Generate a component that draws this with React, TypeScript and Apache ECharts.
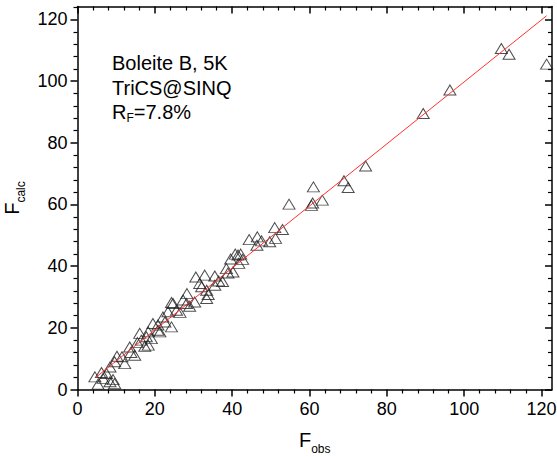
import React, { useEffect, useRef } from "react";
import * as echarts from "echarts";

// F_obs values (x) and F_calc values (y)
const fObs = [
  4.5, 5.3, 6.6, 7.5, 8.4, 9.2, 9.6, 8.4, 9.6, 10.2, 12.2, 13.5, 14.8, 16.1, 16.5, 17.4,
  18.3, 17.8, 18.3, 19.1, 19.5, 20.8, 20.8, 21.3, 22.1, 22.6, 24.3, 24.3, 23.4, 25.6,
  24.7, 27.3, 28.3, 28.2, 30.3, 30.6, 31.6, 32.1, 32.9, 33.4, 33.4, 33.8, 35.5, 35.5,
  38.5, 38.9, 40.2, 39.6, 40.8, 41.5, 42.2, 42.7, 41.7, 44.4, 46.5, 47.6, 46.4, 49.7,
  51.2, 51.0, 53.0, 54.7, 60.5, 60.8, 61.0, 63.3, 68.9, 70.0, 74.5, 89.4, 96.3, 109.6,
  111.6, 121.3, 6.2, 11.5, 13.8, 15.5, 26.5, 29.0, 36.5, 37.5,
];
const fCalc = [
  4.1, 1.7, 3.6, 5.2, 2.5, 3.2, 1.9, 7.3, 9.0, 10.8, 8.4, 13.8, 11.1, 18.2, 16.0, 14.0,
  14.4, 17.1, 18.7, 16.5, 21.4, 19.2, 20.9, 18.7, 23.5, 21.9, 20.3, 28.2, 25.2, 25.7,
  27.9, 29.0, 31.1, 27.9, 28.4, 36.5, 34.4, 33.3, 37.1, 32.2, 29.5, 30.8, 36.8, 33.8,
  39.2, 37.8, 38.1, 42.3, 43.9, 43.6, 43.9, 42.2, 40.9, 48.6, 49.5, 48.2, 46.8, 47.9,
  49.0, 52.5, 51.9, 60.1, 59.7, 60.5, 65.7, 61.4, 67.7, 65.5, 72.5, 89.5, 97.1, 110.6,
  108.7, 105.5, 5.5, 10.6, 12.0, 15.2, 25.0, 27.0, 35.2, 35.0,
];
// reference line
const lineX = [4.8, 121.3];
const lineY = [4.0, 121.2];
// major tick values (both axes)
const tickValues = [0, 20, 40, 60, 80, 100, 120];
const xMax = 122.7;
const yMax = 124.2;
const noteLines = ["Boleite B, 5K", "TriCS@SINQ"];
const rfMain = "R";
const rfSub = "F";
const rfValue = "=7.8%";

const FONT = "Arial, 'Liberation Sans', sans-serif";

function makeAxis(pos: string, max: number, main: boolean, name: string) {
  const outward = main;
  return {
    type: "value",
    position: pos,
    min: 0,
    max,
    interval: 20,
    name: main ? name : "",
    nameLocation: "middle",
    nameGap: pos === "bottom" ? 40 : 45,
    nameTextStyle: {
      rich: {
        a: { fontFamily: FONT, fontSize: 20, lineHeight: 20, color: "#000" },
        b: { fontFamily: FONT, fontSize: 12, lineHeight: 12, color: "#000", padding: [18, 0, 0, 0] },
      },
    },
    axisLine: { show: true, onZero: false, lineStyle: { color: "#000", width: 1.5 } },
    axisTick: {
      show: true,
      inside: !outward,
      length: 7,
      customValues: tickValues,
      lineStyle: { color: "#000", width: 1.5 },
    },
    minorTick: {
      show: true,
      splitNumber: 5,
      length: 4,
      lineStyle: { color: "#000", width: 1.2 },
    },
    axisLabel: {
      show: main,
      customValues: tickValues,
      margin: 10,
      fontFamily: FONT,
      fontSize: 18,
      color: "#000",
    },
    splitLine: { show: false },
    minorSplitLine: { show: false },
  };
}

export default function App() {
  const ref = useRef<HTMLDivElement>(null);
  useEffect(() => {
    if (!ref.current) return;
    const chart = echarts.init(ref.current, null, { renderer: "svg" });
    const points = fObs.map((x, i) => [x, fCalc[i]]);
    const linePts = lineX.map((x, i) => [x, lineY[i]]);
    const xAxisBottom: any = makeAxis("bottom", xMax, true, "{a|F}{b|obs}");
    const xAxisTop: any = makeAxis("top", xMax, false, "");
    const yAxisLeft: any = makeAxis("left", yMax, true, "{a|F}{b|calc}");
    const yAxisRight: any = makeAxis("right", yMax, false, "");
    chart.setOption({
      animation: false,
      backgroundColor: "#fff",
      grid: {
        left: 77.5,
        right: 5,
        top: 6.5,
        bottom: 67.5,
        containLabel: false,
        outerBoundsMode: "none",
      },
      xAxis: [xAxisBottom, xAxisTop],
      yAxis: [yAxisLeft, yAxisRight],
      graphic: [
        {
          type: "text",
          left: 112,
          top: 53,
          style: { text: noteLines[0], font: `20px ${FONT}`, fill: "#000" },
        },
        {
          type: "text",
          left: 112,
          top: 77.5,
          style: { text: noteLines[1], font: `20px ${FONT}`, fill: "#000" },
        },
        {
          type: "text",
          left: 112,
          top: 100.5,
          style: {
            text: `{a|${rfMain}}{b|${rfSub}}{a|${rfValue}}`,
            rich: {
              a: { fontFamily: FONT, fontSize: 20, lineHeight: 20, fill: "#000" },
              b: { fontFamily: FONT, fontSize: 12, lineHeight: 12, fill: "#000", padding: [11, 0, 0, 0] },
            },
          },
        },
      ],
      series: [
        {
          type: "scatter",
          xAxisIndex: 0,
          yAxisIndex: 0,
          data: points,
          symbol: "triangle",
          symbolSize: [12, 10],
          itemStyle: { color: "rgba(0,0,0,0)", borderColor: "#222", borderWidth: 1 },
          emphasis: { disabled: true },
        },
        {
          type: "line",
          xAxisIndex: 0,
          yAxisIndex: 0,
          data: linePts,
          showSymbol: false,
          lineStyle: { color: "#ff3030", width: 1 },
          emphasis: { disabled: true },
        },
      ],
    });
    return () => chart.dispose();
  }, []);
  return (
    <div
      ref={ref}
      style={{ position: "fixed", left: 0, top: 0, width: 557, height: 457, background: "#fff" }}
    />
  );
}
